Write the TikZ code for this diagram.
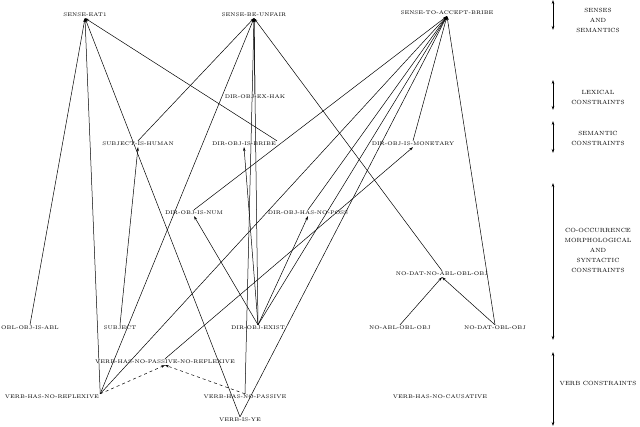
\documentclass[tikz,border=0pt]{standalone}
\usetikzlibrary{arrows.meta}
\begin{document}
\begin{tikzpicture}[x=1pt,y=-1pt,
  n/.style={font=\fontsize{5.3}{6}\selectfont,inner sep=1pt},
  r/.style={font=\fontsize{6}{8}\selectfont,align=center,inner sep=0pt},
  e/.style={-{Stealth[length=4pt,width=2.5pt]},line width=0.5pt},
  d/.style={e,dashed},
  b/.style={{Stealth[length=4pt,width=2.5pt]}-{Stealth[length=4pt,width=2.5pt]},line width=0.5pt}]
\useasboundingbox (0,0) rectangle (640,427);
\node[n] (eat) at (85,15) {SENSE-EAT1};
\node[n] (unf) at (254,15) {SENSE-BE-UNFAIR};
\node[n] (acc) at (447,13) {SENSE-TO-ACCEPT-BRIBE};
\node[n] (hak) at (255,97) {DIR-OBJ-EX-HAK};
\node[n] (hum) at (138,144) {SUBJECT-IS-HUMAN};
\node[n] (brb) at (244,144) {DIR-OBJ-IS-BRIBE};
\node[n] (mon) at (413,144) {DIR-OBJ-IS-MONETARY};
\node[n] (num) at (194,213) {DIR-OBJ-IS-NUM};
\node[n] (pos) at (308,213) {DIR-OBJ-HAS-NO-POSS};
\node[n] (ndna) at (442,274) {NO-DAT-NO-ABL-OBL-OBJ};
\node[n] (abl) at (30,328) {OBL-OBJ-IS-ABL};
\node[n] (sub) at (120,328) {SUBJECT};
\node[n] (ex) at (258,328) {DIR-OBJ-EXIST};
\node[n] (nab) at (400,328) {NO-ABL-OBL-OBJ};
\node[n] (nda) at (495,328) {NO-DAT-OBL-OBJ};
\node[n] (pr) at (165,362) {VERB-HAS-NO-PASSIVE-NO-REFLEXIVE};
\node[n] (nr) at (52,397) {VERB-HAS-NO-REFLEXIVE};
\node[n] (np) at (245,397) {VERB-HAS-NO-PASSIVE};
\node[n] (nc) at (440,397) {VERB-HAS-NO-CAUSATIVE};
\node[n] (ye) at (240,420) {VERB-IS-YE};
% right labels
\node[r] (l1) at (598,20) {SENSES\\[2pt]AND\\[2pt]SEMANTICS};
\node[r] (l2) at (598,97) {LEXICAL\\[2pt]CONSTRAINTS};
\node[r] (l3) at (598,138) {SEMANTIC\\[2pt]CONSTRAINTS};
\node[r] (l4) at (598,250) {CO-OCCURRENCE\\[2pt]MORPHOLOGICAL\\[2pt]AND\\[2pt]SYNTACTIC\\[2pt]CONSTRAINTS};
\node[r] (l5) at (598,383) {VERB CONSTRAINTS};
\coordinate (a1) at (553,0); \coordinate (a2) at (553,30);
\coordinate (b1) at (553,80); \coordinate (b2) at (553,110);
\coordinate (c1) at (553,121); \coordinate (c2) at (553,153);
\coordinate (d1) at (553,183); \coordinate (d2) at (553,340);
\coordinate (f1) at (553,352); \coordinate (f2) at (553,426);
\draw[b] (a1)--(a2); \draw[b] (b1)--(b2); \draw[b] (c1)--(c2);
\draw[b] (d1)--(d2); \draw[b] (f1)--(f2);
% edges
\draw[e] (abl.north) -- (eat.south);
\draw[e] (nr.north east) -- (eat.south);
\draw[e] (ye.north) -- (eat.south);
\draw[e] (brb.north east) -- (eat.south);
\draw[e] (hum.north) -- (unf.south);
\draw[e] (nr.north east) -- (unf.south);
\draw[e] (ex.north) -- (unf.south);
\draw[e] (hak.north) -- (unf.south);
\draw[e] (np.north) -- (unf.south);
\draw[e] (ndna.north) -- (unf.south);
\draw[e] (sub.north) -- (hum.south);
\draw[e] (ex.north) -- (brb.south);
\draw[e] (ex.north) -- (num.south);
\draw[e] (ex.north) -- (pos.south);
\draw[e] (num.north) -- (acc.south);
\draw[e] (nr.north east) -- (acc.south);
\draw[e] (pos.north) -- (acc.south);
\draw[e] (ex.north) -- (acc.south);
\draw[e] (ye.north) -- (acc.south);
\draw[e] (pr.north) -- (mon.south);
\draw[e] (mon.north) -- (acc.south);
\draw[e] (nda.north) -- (acc.south);
\draw[e] (nab.north) -- (ndna.south);
\draw[e] (nda.north) -- (ndna.south);
\draw[d] (nr.north east) -- (pr.south);
\draw[d] (np.north) -- (pr.south);
\end{tikzpicture}
\end{document}
